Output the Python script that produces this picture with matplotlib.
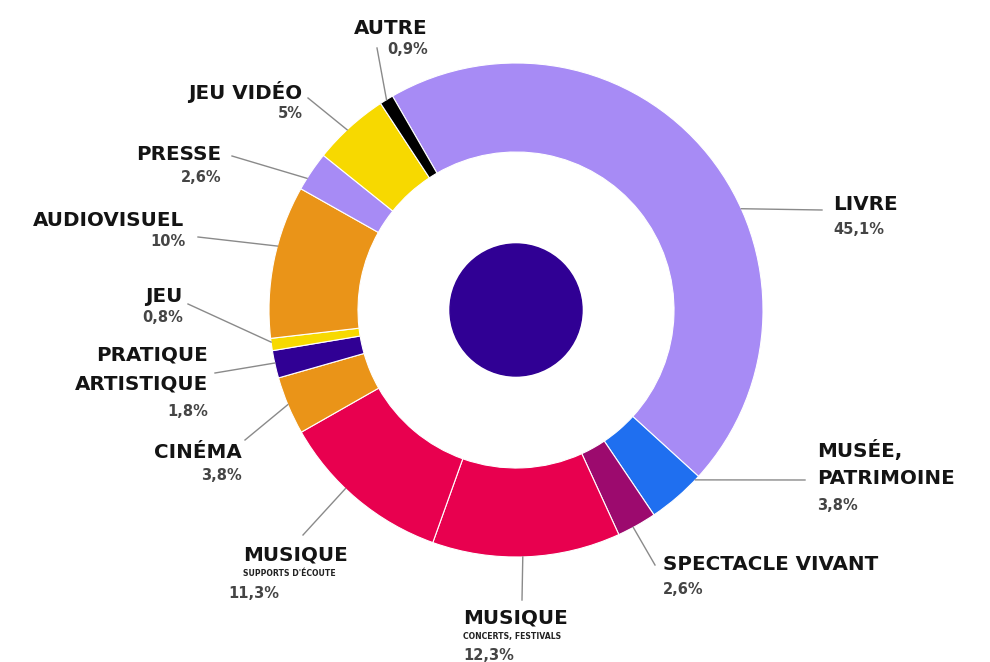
import numpy as np
import matplotlib
matplotlib.use("Agg")
import matplotlib.pyplot as plt

# shares, clockwise starting with LIVRE
names = ["LIVRE", "MUSÉE,\nPATRIMOINE", "SPECTACLE VIVANT", "MUSIQUE", "MUSIQUE",
         "CINÉMA", "PRATIQUE\nARTISTIQUE", "JEU", "AUDIOVISUEL", "PRESSE",
         "JEU VIDÉO", "AUTRE"]
subs = ["", "", "", "CONCERTS, FESTIVALS", "SUPPORTS D'ÉCOUTE", "", "", "", "", "", "", ""]
values = [45.1, 3.8, 2.6, 12.3, 11.3, 3.8, 1.8, 0.8, 10, 2.6, 5, 0.9]
pct_labels = ["45,1%", "3,8%", "2,6%", "12,3%", "11,3%", "3,8%", "1,8%", "0,8%",
              "10%", "2,6%", "5%", "0,9%"]
colors = ["#A78BF5", "#1F6FF0", "#9C0A6E", "#E8004F", "#E8004F", "#EA9418",
          "#300094", "#F7D900", "#EA9418", "#A78BF5", "#F7D900", "#000000"]

W, H = 990, 662
cx, cy = 516, 310          # image coords (y down)
R_out, R_in, R_core = 247, 158, 66

# label layout: (x, name_y, pct_y, ha, pct_x, elbow_x, elbow_y, frac along wedge)
layout = [
    (833, 205, 230, "left", 833, 822, 210, 0.59),
    (817, 450, 505, "left", 817, 805, 480, 0.08),
    (663, 565, 590, "left", 663, 655, 565, 0.6),
    (463, 618, 656, "left", 463, 522, 600, 0.52),
    (243, 555, 594, "left", 228, 303, 535, 0.59),
    (242, 452, 475, "right", 242, 245, 440, 0.52),
    (208, 355, 412, "right", 208, 215, 373, 0.55),
    (182, 297, 318, "right", 183, 188, 304, 0.7),
    (184, 220, 241, "right", 186, 198, 237, 0.6),
    (221, 155, 177, "right", 221, 232, 156, 0.3),
    (302, 92, 113, "right", 303, 308, 98, 0.45),
    (428, 28, 50, "right", 428, 377, 48, 0.5),
]

plt.rcParams['font.family'] = ['DejaVu Sans']

fig = plt.figure(figsize=(9.9, 6.62), dpi=100)
ax = fig.add_axes([0, 0, 1, 1])

wedges, _ = ax.pie(values, colors=colors, startangle=120, counterclock=False,
                   radius=R_out, center=(cx, H - cy),
                   wedgeprops=dict(width=R_out - R_in, edgecolor="white", linewidth=0.8))
ax.add_patch(plt.Circle((cx, H - cy), R_core, color="#300094", zorder=3))

for i, w in enumerate(wedges):
    x, ny, py, ha, px, ex, ey, f = layout[i]
    ang = np.deg2rad(w.theta2 - f * (w.theta2 - w.theta1))
    ax_, ay_ = cx + R_out * np.cos(ang), (H - cy) + R_out * np.sin(ang)
    ax.plot([ax_, ex], [ay_, H - ey], color="#8a8a8a", lw=1, zorder=1)
    lines = names[i].split("\n")
    for k, ln in enumerate(lines):
        ax.text(x, H - (ny + 29 * k), ln, ha=ha, va="center", fontsize=14.3,
                fontweight="bold", color="#141414")
    if subs[i]:
        ax.text(x, H - (ny + 19), subs[i], ha=ha, va="center", fontsize=5.6,
                fontweight="bold", color="#222222")
    ax.text(px, H - py, pct_labels[i], ha=ha, va="center", fontsize=10.5,
            fontweight="bold", color="#454545")

ax.set_xlim(0, W)
ax.set_ylim(0, H)
ax.set_aspect("equal")
ax.axis("off")

fig.savefig("out.png", dpi=100, facecolor="white")
